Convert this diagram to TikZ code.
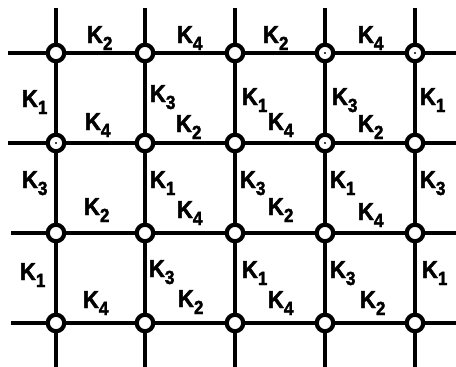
\documentclass[tikz,border=0pt]{standalone}
\usepackage{fontspec}
\setmainfont{Liberation Sans}
\newfontfamily\labfont{Liberation Sans Bold}[FakeBold=2, FakeStretch=0.9]
\newcommand\Klab[1]{K\raisebox{-7pt}{\fontsize{19pt}{19pt}\selectfont #1}}
\tikzset{
  gridline/.style={line width=4.2pt, black},
  junc/.style={circle, draw=black, line width=4.2pt, fill=white, minimum size=16.5pt, inner sep=0pt},
  lab/.style={anchor=base west, inner sep=0pt, outer sep=0pt, font=\labfont\fontsize{24.5pt}{24.5pt}\selectfont},
}
\begin{document}
\begin{tikzpicture}[x=1pt,y=-1pt]
\useasboundingbox (0,0) rectangle (456,367);
% coordinates
\foreach \x [count=\i] in {56,145,235,325,415} {
  \coordinate (t\i) at (\x,8);
  \coordinate (b\i) at (\x,367);
  \foreach \y [count=\j] in {53,143,233,323} {
    \coordinate (c\i\j) at (\x,\y);
  }
}
\foreach \y/\lx [count=\j] in {53/8,143/8,233/11,323/11} {
  \coordinate (l\j) at (\lx,\y);
  \coordinate (r\j) at (456,\y);
}
% grid lines
\foreach \i in {1,...,5} \draw[gridline] (t\i) -- (b\i);
\foreach \j in {1,...,4} \draw[gridline] (l\j) -- (r\j);
% junctions
\foreach \i in {1,...,5} \foreach \j in {1,...,4} \node[junc] (n\i\j) at (c\i\j) {};
\foreach \n in {n12,n41,n51,n42} \fill (\n) circle (1.2pt);
% labels
\foreach \x/\y/\dg [count=\k] in {
  87/43/2, 177/43/4, 263/43/2, 358/43/4,
  22/107/1, 150/102/3, 242/105/1, 332/105/3, 420/105/1,
  85/130/4, 176/132/2, 268/130/4, 358/132/2,
  22/188/3, 150/188/1, 240/188/3, 330/188/1, 420/188/3,
  84/215/2, 177/218/4, 268/215/2, 358/220/4,
  20/280/1, 149/277/3, 242/278/1, 330/278/3, 422/278/1,
  83/308/4, 178/307/2, 268/308/4, 360/308/2}
  \node[lab] (k\k) at (\x,\y) {\Klab{\dg}};
\end{tikzpicture}
\end{document}
